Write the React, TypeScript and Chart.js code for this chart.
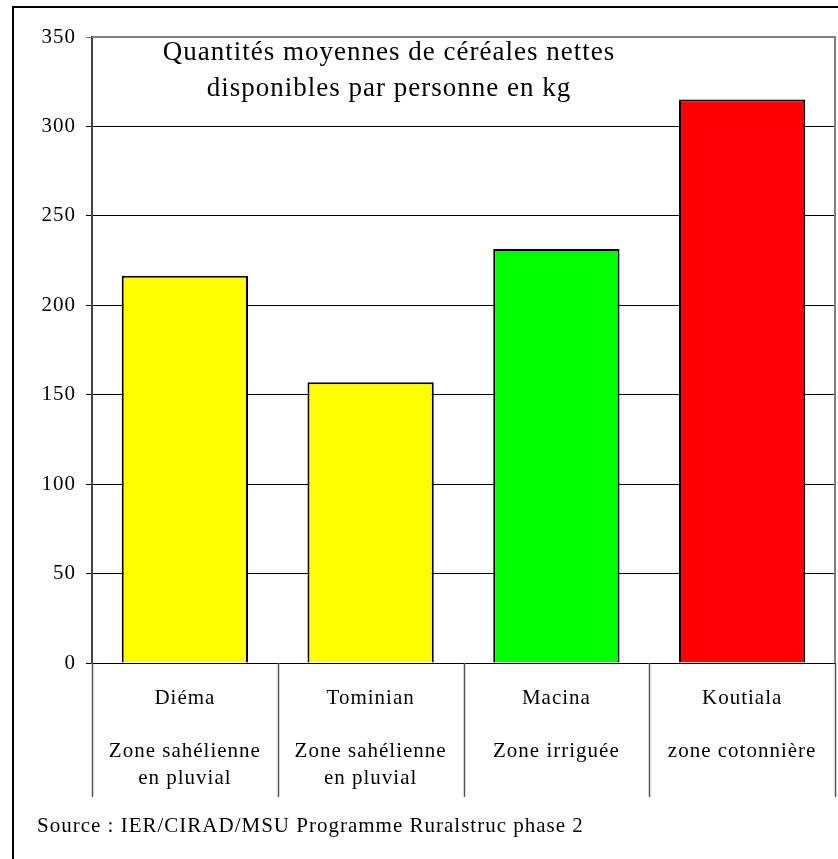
import React, { useEffect, useRef } from "react";
import { Chart, registerables } from "chart.js";

Chart.register(...registerables);

const categories = ["Diéma", "Tominian", "Macina", "Koutiala"];
const zones = [
  ["Zone sahélienne", "en pluvial"],
  ["Zone sahélienne", "en pluvial"],
  ["Zone irriguée"],
  ["zone cotonnière"],
];
const values = [216.5, 157, 231.5, 315];
const barColors = ["#FFFF00", "#FFFF00", "#00FF00", "#FF0000"];
const titleLines = ["Quantités moyennes de céréales nettes", "disponibles par personne en kg"];
const sourceText = "Source : IER/CIRAD/MSU Programme Ruralstruc phase 2";
const yMin = 0;
const yMax = 350;
const yStep = 50;

const FONT = "'Liberation Serif', 'Times New Roman', serif";
const W = 838;
const H = 859;

const decor = {
  id: "decor",
  beforeDraw(chart: any) {
    const ctx = chart.ctx;
    ctx.save();
    ctx.fillStyle = "#fff";
    ctx.fillRect(0, 0, chart.width, chart.height);
    ctx.restore();
    try {
      (ctx as any).letterSpacing = "1px";
    } catch (e) {}
  },
  afterDraw(chart: any) {
    const ctx = chart.ctx;
    const ca = chart.chartArea;
    const xs = chart.scales.x;
    ctx.save();
    // outer frame
    ctx.strokeStyle = "#000";
    ctx.lineWidth = 2;
    ctx.beginPath();
    ctx.moveTo(13, H);
    ctx.lineTo(13, 7);
    ctx.lineTo(W, 7);
    ctx.stroke();
    // plot border top & right
    ctx.strokeStyle = "#808080";
    ctx.lineWidth = 2;
    ctx.beginPath();
    ctx.moveTo(ca.left, ca.top);
    ctx.lineTo(ca.right, ca.top);
    ctx.lineTo(ca.right, ca.bottom);
    ctx.stroke();
    // category dividers
    const half = (xs.getPixelForValue(1) - xs.getPixelForValue(0)) / 2;
    ctx.strokeStyle = "#555";
    ctx.lineWidth = 1.5;
    for (let i = 0; i <= categories.length; i++) {
      const px = Math.round(xs.getPixelForValue(i) - half) + 0.5;
      ctx.beginPath();
      ctx.moveTo(px, ca.bottom);
      ctx.lineTo(px, 797);
      ctx.stroke();
    }
    // title
    ctx.fillStyle = "#000";
    ctx.font = `27px ${FONT}`;
    ctx.textAlign = "center";
    ctx.textBaseline = "middle";
    ctx.fillText(titleLines[0], 389, 53);
    ctx.fillText(titleLines[1], 389, 89);
    // source
    ctx.font = `21px ${FONT}`;
    ctx.textAlign = "left";
    ctx.fillText(sourceText, 37, 826);
    ctx.restore();
  },
};

export default function App() {
  const ref = useRef<HTMLCanvasElement>(null);
  useEffect(() => {
    if (!ref.current) return;
    const labels = categories.map((c, i) => [c, "", ...zones[i]]);
    const chart = new Chart(ref.current, {
      type: "bar",
      data: {
        labels,
        datasets: [
          {
            data: values,
            backgroundColor: barColors,
            borderColor: "#000",
            borderWidth: 2,
            barPercentage: 0.68,
            categoryPercentage: 1,
          },
        ],
      },
      plugins: [decor],
      options: {
        responsive: false,
        animation: false,
        devicePixelRatio: 1,
        layout: { padding: { left: 0, top: 37, right: 3, bottom: 0 } },
        plugins: {
          legend: { display: false },
          tooltip: { enabled: false },
          title: { display: false },
        },
        scales: {
          x: {
            grid: { display: false, drawTicks: false },
            border: { display: false },
            ticks: {
              color: "#000",
              font: { family: FONT, size: 21, lineHeight: 1.27 },
              padding: 22,
              maxRotation: 0,
              autoSkip: false,
            },
            afterFit(scale: any) {
              scale.height = H - 663;
            },
          },
          y: {
            min: yMin,
            max: yMax,
            ticks: {
              stepSize: yStep,
              color: "#000",
              font: { family: FONT, size: 21 },
              padding: 10,
            },
            grid: {
              color: (c: any) => (c.tick && c.tick.value === yMax ? "#808080" : "#000"),
              lineWidth: 1,
              tickLength: 6,
            },
            border: { color: "#444", width: 2 },
            afterFit(scale: any) {
              scale.width = 92;
            },
          },
        },
      },
    });
    return () => chart.destroy();
  }, []);
  return (
    <div style={{ position: "absolute", left: 0, top: 0, width: W, height: H, background: "#fff" }}>
      <canvas ref={ref} width={W} height={H} style={{ display: "block" }} />
    </div>
  );
}
